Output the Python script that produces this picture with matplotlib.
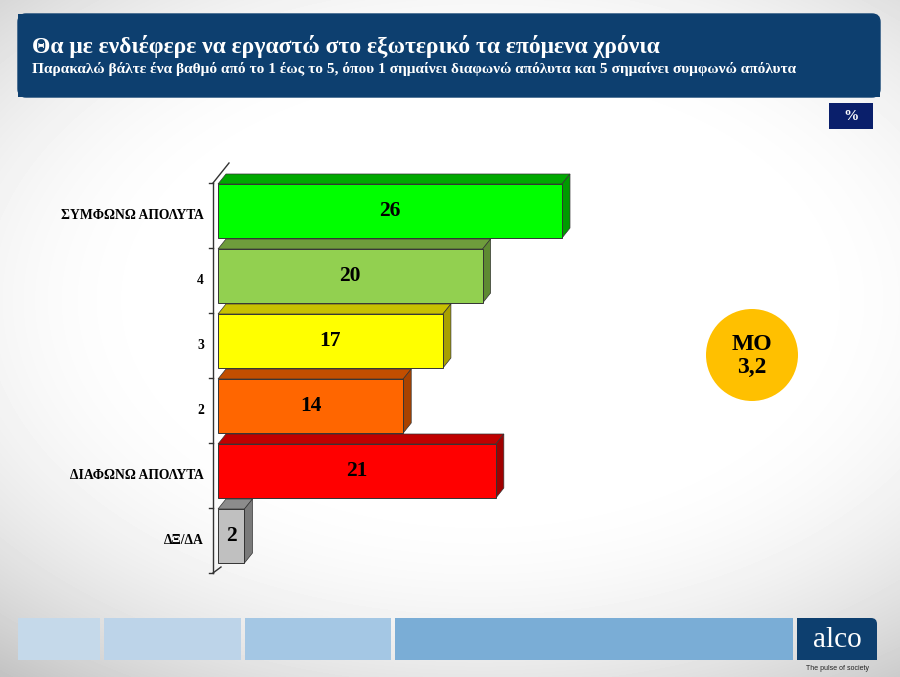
import numpy as np
import matplotlib
matplotlib.use("Agg")
import matplotlib.pyplot as plt
from matplotlib.patches import Polygon, Rectangle, Circle, FancyBboxPatch

# data
categories = ["ΣΥΜΦΩΝΩ ΑΠΟΛΥΤΑ", "4", "3", "2", "ΔΙΑΦΩΝΩ ΑΠΟΛΥΤΑ", "ΔΞ/ΔΑ"]
values = [26, 20, 17, 14, 21, 2]
front_colors = ["#00FF00", "#92D050", "#FFFF00", "#FF6600", "#FF0000", "#C0C0C0"]
top_colors = ["#00A800", "#6E9C3C", "#C8C000", "#C24E00", "#C00000", "#8C8C8C"]
side_colors = ["#009A00", "#5E8A32", "#A8A000", "#A84200", "#A00000", "#7A7A7A"]
title = "Θα με ενδιέφερε να εργαστώ στο εξωτερικό τα επόμενα χρόνια"
subtitle = "Παρακαλώ βάλτε ένα βαθμό από το 1 έως το 5, όπου 1 σημαίνει διαφωνώ απόλυτα και 5 σημαίνει συμφωνώ απόλυτα"
mean_label = "ΜΟ\n3,2"

serif = ["Liberation Serif", "DejaVu Serif"]
W, H = 900, 677
fig = plt.figure(figsize=(9, 6.77), dpi=100)

# background + decorations in pixel coords
bg = fig.add_axes([0, 0, 1, 1])
bg.set_xlim(0, W)
bg.set_ylim(H, 0)
bg.axis("off")
yy, xx = np.mgrid[0:H, 0:W]
r = np.sqrt(((xx - 480) / 600.0) ** 2 + ((yy - 300) / 380.0) ** 2)
shade = 1.0 - 0.4 * np.clip(r - 0.5, 0, None) ** 2
bg.imshow(shade, cmap="gray", vmin=0, vmax=1, extent=(0, W, H, 0), aspect="auto", zorder=0)

# header
bg.add_patch(FancyBboxPatch((18, 14), 862, 83, boxstyle="round,pad=0,rounding_size=8",
                            fc="#0D3F6F", ec="#0D3F6F", zorder=1))
bg.add_patch(Rectangle((18, 14), 20, 83, fc="#0D3F6F", ec="none", zorder=1))
bg.add_patch(Rectangle((18, 60), 862, 37, fc="#0D3F6F", ec="none", zorder=1))
bg.text(32, 46, title, color="white", fontsize=17, fontweight="bold", family=serif, va="center", zorder=2)
bg.text(32, 69, subtitle, color="white", fontsize=11.1, fontweight="bold", family=serif, va="center", zorder=2)

# % box
bg.add_patch(Rectangle((829, 103), 44, 26, fc="#0A1F6B", ec="none", zorder=1))
bg.text(851, 116, "%", color="white", fontsize=11, fontweight="bold", family=serif, ha="center", va="center", zorder=2)

# mean circle
bg.add_patch(Circle((752, 355), 46, fc="#FFC000", ec="none", zorder=1))
bg.text(752, 356, mean_label, fontsize=17, fontweight="bold", family=serif, ha="center", va="center",
        linespacing=1.1, zorder=2)

# footer
for x0, x1, c in [(18, 100, "#C5D9EA"), (104, 241, "#BDD4E9"), (245, 391, "#A4C7E4"), (395, 793, "#7AADD6")]:
    bg.add_patch(Rectangle((x0, 618), x1 - x0, 42, fc=c, ec="none", zorder=1))
bg.add_patch(FancyBboxPatch((797, 618), 80, 42, boxstyle="round,pad=0,rounding_size=6",
                            fc="#0D3F6F", ec="none", zorder=1))
bg.add_patch(Rectangle((797, 618), 20, 42, fc="#0D3F6F", ec="none", zorder=1))
bg.add_patch(Rectangle((797, 640), 80, 20, fc="#0D3F6F", ec="none", zorder=1))
bg.text(837, 640, "alco", color="white", fontsize=21, family=serif, ha="center", va="center", zorder=2)
bg.text(837, 668, "The pulse of society", color="#222222", fontsize=5, family=["Liberation Sans"],
        ha="center", va="center", zorder=2)

# chart axes: 13.23 px per unit, 65 px per slot
px_per_unit = 13.23
ax = fig.add_axes([218 / W, 1 - 573 / H, 500 / W, 390 / H])
ax.set_xlim(0, 500 / px_per_unit)
ax.set_ylim(len(values) - 0.5, -0.5)
ax.axis("off")
ux = 1 / px_per_unit
uy = 1 / 65.0
dx, dy = 8 * ux, 10 * uy

# axis wall
ax.plot([-5 * ux, -5 * ux], [-0.5, len(values) - 0.5], color="#333333", lw=1, clip_on=False)
ax.plot([-5 * ux, 11 * ux], [-0.5, -0.5 - 20 * uy], color="#333333", lw=1, clip_on=False)
ax.plot([-5 * ux, 3 * ux], [len(values) - 0.5, len(values) - 0.5 - 6 * uy], color="#333333", lw=1, clip_on=False)
for k in range(len(values) + 1):
    ax.plot([-9 * ux, -5 * ux], [k - 0.5, k - 0.5], color="#333333", lw=1, clip_on=False)

for i, v in enumerate(values):
    yt = i - 0.5 + 1 * uy
    yb = i - 0.5 + 55 * uy
    ax.barh((yt + yb) / 2, v, height=yb - yt, color=front_colors[i], edgecolor="#333333", lw=0.7, zorder=3)
    ax.add_patch(Polygon([(0, yt), (v, yt), (v + dx, yt - dy), (dx, yt - dy)], closed=True,
                         fc=top_colors[i], ec="#333333", lw=0.5, zorder=2, clip_on=False))
    ax.add_patch(Polygon([(v, yt), (v + dx, yt - dy), (v + dx, yb - dy), (v, yb)], closed=True,
                         fc=side_colors[i], ec="#333333", lw=0.5, zorder=2, clip_on=False))
    ax.text(v / 2, (yt + yb) / 2, str(v), ha="center", va="center", fontsize=15.5, fontweight="bold",
            family=serif, zorder=4)
    ax.text(-14 * ux, i, categories[i], ha="right", va="center", fontsize=9.8, fontweight="bold",
            family=serif, clip_on=False)

fig.savefig("out.png", dpi=100)
